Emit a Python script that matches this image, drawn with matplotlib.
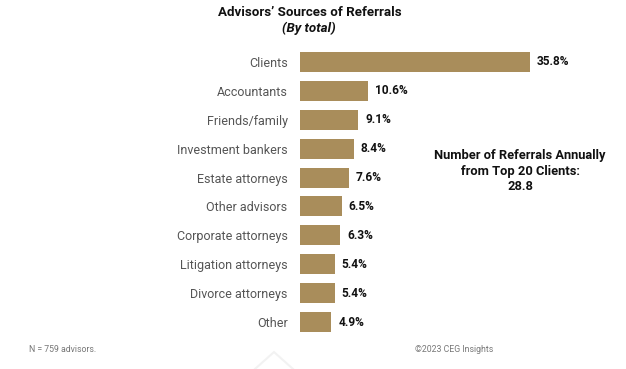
import matplotlib.pyplot as plt

categories = ["Clients", "Accountants", "Friends/family", "Investment bankers",
              "Estate attorneys", "Other advisors", "Corporate attorneys",
              "Litigation attorneys", "Divorce attorneys", "Other"]
shares = [35.8, 10.6, 9.1, 8.4, 7.6, 6.5, 6.3, 5.4, 5.4, 4.9]

W, H = 626, 369
fig = plt.figure(figsize=(W / 100, H / 100), dpi=100)
plt.rcParams['font.family'] = ['Roboto', 'DejaVu Sans']

ax = fig.add_axes([300 / W, 1 - 336.5 / H, 321 / W, 289 / H])
ypos = list(range(len(categories)))
ax.barh(ypos, shares, height=0.69, color='#A98D5B')
ax.set_xlim(0, 50)
ax.set_ylim(len(categories) - 0.5, -0.5)
ax.set_yticks(ypos)
ax.set_yticklabels(categories, fontsize=9.0, color='#555555')
ax.tick_params(axis='y', length=0, pad=9)
ax.set_xticks([])
for s in ax.spines.values():
    s.set_visible(False)
for y, v in zip(ypos, shares):
    ax.text(v + 1.1, y, f"{v}%", va='center', ha='left', fontsize=8.6,
            fontweight='bold', color='#111111')

fig.text(310 / W, 1 - 13 / H, "Advisors’ Sources of Referrals", ha='center', va='center',
         fontsize=9.6, fontweight='bold', color='#111111')
fig.text(309 / W, 1 - 28 / H, "(By total)", ha='center', va='center',
         fontsize=9.6, fontweight='bold', fontstyle='italic', color='#111111')

fig.text(520 / W, 1 - 171 / H, "Number of Referrals Annually\nfrom Top 20 Clients:\n28.8",
         ha='center', va='center', fontsize=9.3, fontweight='bold', color='#111111',
         linespacing=1.25)

fig.text(29 / W, 1 - 349 / H, "N = 759 advisors.", ha='left', va='center',
         fontsize=6.3, color='#777777')
fig.text(493 / W, 1 - 349 / H, "©2023 CEG Insights", ha='right', va='center',
         fontsize=6.3, color='#777777')

# faint chevron at the bottom
fig.add_artist(plt.Line2D([255 / W, 274 / W, 293 / W], [0, 17 / H, 0],
                          color='#f2f2f2', lw=1.5))

fig.savefig("out.png", dpi=100)
